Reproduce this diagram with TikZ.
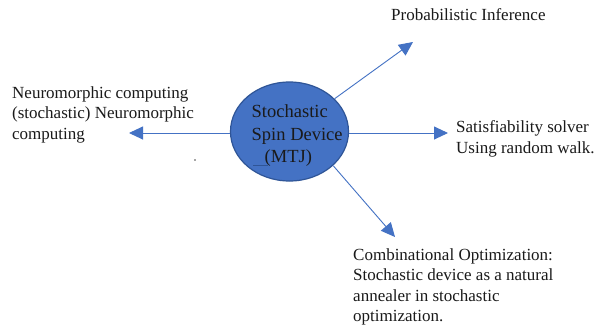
\documentclass[tikz,border=0pt]{standalone}
\usepackage{fontspec}
\setmainfont{Liberation Serif}
\usetikzlibrary{arrows.meta,shapes.geometric}
\definecolor{ofblue}{HTML}{4472C4}
\definecolor{ofdark}{HTML}{2F5597}
\definecolor{txt}{HTML}{1A1A1A}
\begin{document}
\begin{tikzpicture}[x=1pt,y=-1pt,
  outer/.style={font=\fontsize{17}{20.5}\selectfont, text=txt, inner sep=0pt, align=left, anchor=north west},
  conn/.style={draw=ofblue, line width=0.9pt, -{Triangle[length=14pt,width=13pt]}},
  devshape/.style={ellipse, fill=ofblue, draw=ofdark, line width=1.2pt, minimum width=118pt, minimum height=99pt, inner sep=0pt}]
\useasboundingbox (0,0) rectangle (595,333);
\fill[white] (0,0) rectangle (595,333);
\node[devshape] (dev) at (289.5,131.5) {};
\node[font=\fontsize{18.5}{22.5}\selectfont, text=txt, inner sep=0pt, align=left, anchor=north west] (devtxt) at (251.5,104.5) {Stochastic\\Spin Device\\\hspace*{13pt}(MTJ)};
\coordinate (lt) at (129,133);
\coordinate (rt) at (448,133);
\coordinate (ut) at (413,42);
\coordinate (dt) at (395,237);
\draw[conn] (lt -| dev.west) -- (lt);
\draw[conn] (rt -| dev.east) -- (rt);
\draw[conn] (dev.36) -- (ut);
\draw[conn] (dev.-38) -- (dt);
\fill[gray!60!black] (195,160) circle (0.8pt);
\draw[ofdark, line width=0.9pt] (253,165) -- (268,165);
\node[outer] (neu) at (12,86.4) {Neuromorphic computing\\(stochastic) Neuromorphic\\computing};
\node[outer, anchor=base west] (prob) at (391,20) {Probabilistic Inference};
\node[outer] (sat) at (456,120.4) {Satisfiability solver\\Using random walk.};
\node[outer] (comb) at (353,248.4) {Combinational Optimization:\\Stochastic device as a natural\\annealer in stochastic\\optimization.};
\end{tikzpicture}
\end{document}
